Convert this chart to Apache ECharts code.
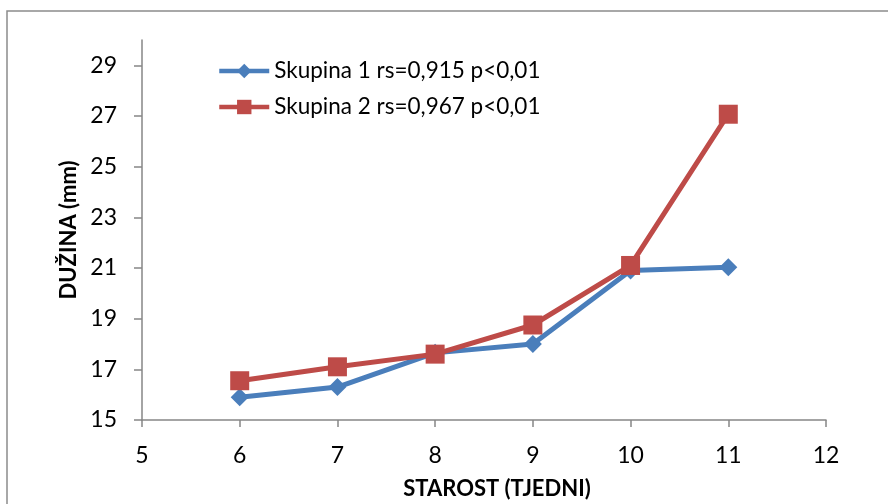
<!DOCTYPE html>
<html><head><meta charset="utf-8">
<script src="https://cdn.jsdelivr.net/npm/echarts@6/dist/echarts.min.js"></script>
<style>html,body{margin:0;padding:0;background:#fff}#c{width:888px;height:504px}</style>
</head><body><div id="c"></div>
<script>
const weeks = [6, 7, 8, 9, 10, 11];
const group1 = [15.9, 16.3, 17.65, 18.0, 20.9, 21.03];
const group2 = [16.55, 17.1, 17.6, 18.75, 21.1, 27.07];
const seriesNames = ['Skupina 1 rs=0,915 p<0,01', 'Skupina 2 rs=0,967 p<0,01'];
const yTicks = [15, 17, 19, 21, 23, 25, 27, 29];
const xTicks = [5, 6, 7, 8, 9, 10, 11, 12];

const font = 'Lato, "Open Sans", sans-serif';
const chart = echarts.init(document.getElementById('c'), null, {renderer: 'canvas'});
const axisGray = '#868686';
chart.setOption({
  animation: false,
  graphic: [{
    type: 'rect', shape: {x: 7, y: 11, width: 1000, height: 600},
    style: {fill: 'none', stroke: '#8c8c8c', lineWidth: 1.5}, silent: true, z: -1
  }],
  grid: {left: 142, right: 62, top: 40, bottom: 84, outerBoundsMode: 'none', containLabel: false},
  legend: {
    orient: 'vertical', left: 212, top: 53, itemWidth: 50, itemHeight: 18, itemGap: 10,
    textStyle: {fontFamily: font, fontSize: 22.5, color: '#000', lineHeight: 26},
    lineStyle: {width: 4.5},
    data: seriesNames
  },
  xAxis: {
    type: 'value', min: 5, max: 12, interval: 1,
    name: 'STAROST (TJEDNI)', nameLocation: 'middle', nameGap: 58,
    nameTextStyle: {fontFamily: font, fontSize: 22, fontWeight: 'bold', color: '#000', padding: [0, 0, 0, 26]},
    axisLine: {lineStyle: {color: axisGray, width: 1.5}},
    axisTick: {show: true, inside: false, length: 7, lineStyle: {color: axisGray, width: 1.5}},
    axisLabel: {fontFamily: font, fontSize: 23, color: '#000', margin: 24, customValues: xTicks},
    splitLine: {show: false}
  },
  yAxis: {
    type: 'value', min: 15, max: 30,
    name: 'DUŽINA (mm)', nameLocation: 'middle', nameGap: 62, nameRotate: 90,
    nameTextStyle: {fontFamily: font, fontSize: 22, fontWeight: 'bold', color: '#000'},
    axisLine: {show: true, lineStyle: {color: axisGray, width: 1.5}},
    axisTick: {show: true, inside: false, length: 8, lineStyle: {color: axisGray, width: 1.5}, customValues: yTicks},
    axisLabel: {fontFamily: font, fontSize: 23, color: '#000', margin: 25, customValues: yTicks},
    splitLine: {show: false}
  },
  series: [
    {
      name: seriesNames[0], type: 'line',
      data: weeks.map((w, i) => [w, group1[i]]),
      symbol: 'diamond', symbolSize: 18,
      lineStyle: {color: '#4A7EBB', width: 5},
      itemStyle: {color: '#4A7EBB'}
    },
    {
      name: seriesNames[1], type: 'line',
      data: weeks.map((w, i) => [w, group2[i]]),
      symbol: 'rect', symbolSize: 19,
      lineStyle: {color: '#BE4B48', width: 5},
      itemStyle: {color: '#BE4B48'}
    }
  ]
});
</script></body></html>
